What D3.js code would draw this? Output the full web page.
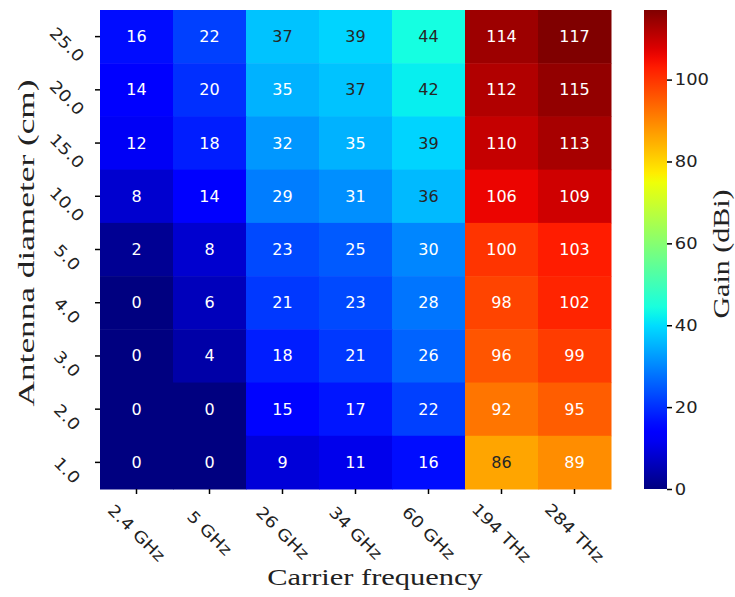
<!DOCTYPE html>
<html>
<head>
<meta charset="utf-8">
<script src="https://cdn.jsdelivr.net/npm/d3@7"></script>
<style>
  body { margin: 0; background: #fff; }
  svg text { fill: #222; }
</style>
</head>
<body>
<script>
// DATA
const freqs = ["2.4 GHz", "5 GHz", "26 GHz", "34 GHz", "60 GHz", "194 THz", "284 THz"];
const diameters = ["25.0", "20.0", "15.0", "10.0", "5.0", "4.0", "3.0", "2.0", "1.0"];
const gain25 = [16, 22, 37, 39, 44, 114, 117];
const gain20 = [14, 20, 35, 37, 42, 112, 115];
const gain15 = [12, 18, 32, 35, 39, 110, 113];
const gain10 = [8, 14, 29, 31, 36, 106, 109];
const gain5 = [2, 8, 23, 25, 30, 100, 103];
const gain4 = [0, 6, 21, 23, 28, 98, 102];
const gain3 = [0, 4, 18, 21, 26, 96, 99];
const gain2 = [0, 0, 15, 17, 22, 92, 95];
const gain1 = [0, 0, 9, 11, 16, 86, 89];
const cbarTicks = [0, 20, 40, 60, 80, 100];

const rows = [gain25, gain20, gain15, gain10, gain5, gain4, gain3, gain2, gain1];
const cells = [];
rows.forEach((r, i) => r.forEach((v, j) => cells.push({row: diameters[i], col: freqs[j], v: v})));

//SIZES
const width = 735, height = 597;
const hm = {left: 100, top: 10, right: 611, bottom: 489};
const cb = {left: 644, right: 667};

// matplotlib jet
const jr = d3.scaleLinear().domain([0, 0.35, 0.66, 0.89, 1]).range([0, 0, 1, 1, 0.5]).clamp(true);
const jg = d3.scaleLinear().domain([0, 0.125, 0.375, 0.64, 0.91, 1]).range([0, 0, 1, 1, 0, 0]).clamp(true);
const jb = d3.scaleLinear().domain([0, 0.11, 0.34, 0.65, 1]).range([0.5, 1, 1, 0, 0]).clamp(true);
const jet = t => [jr(t), jg(t), jb(t)];
const vmin = 0, vmax = d3.max(rows.flat());
const norm = d3.scaleLinear().domain([vmin, vmax]).clamp(true);
const color = v => { const c = jet(norm(v)); return d3.rgb(c[0]*255, c[1]*255, c[2]*255).formatHex(); };
const lum = v => {
  const c = jet(norm(v)).map(x => x <= 0.03928 ? x / 12.92 : Math.pow((x + 0.055) / 1.055, 2.4));
  return 0.2126*c[0] + 0.7152*c[1] + 0.0722*c[2];
};

const svg = d3.select("body").append("svg").attr("width", width).attr("height", height);

const x = d3.scaleBand().domain(freqs).range([hm.left, hm.right]);
const y = d3.scaleBand().domain(diameters).range([hm.top, hm.bottom]);

//CELLS
svg.append("g").selectAll("rect").data(cells).join("rect")
  .attr("x", d => x(d.col))
  .attr("y", d => y(d.row))
  .attr("width", x.bandwidth() + 0.5)
  .attr("height", y.bandwidth() + 0.5)
  .attr("fill", d => color(d.v));

//ANNOTATIONS
svg.append("g").selectAll("text").data(cells).join("text")
  .attr("x", d => x(d.col) + x.bandwidth()/2)
  .attr("y", d => y(d.row) + y.bandwidth()/2)
  .attr("text-anchor", "middle")
  .attr("dominant-baseline", "central")
  .style("font-family", "DejaVu Sans, sans-serif")
  .style("font-size", "16px")
  .style("fill", d => lum(d.v) > 0.408 ? "#262626" : "#ffffff")
  .text(d => d.v);

//X AXIS
const xg = svg.append("g").attr("transform", `translate(0,${hm.bottom})`)
  .call(d3.axisBottom(x).tickSize(5).tickPadding(3));
xg.select(".domain").remove();
xg.selectAll("line").attr("stroke", "#000").attr("stroke-width", 1.5);
xg.selectAll("text")
  .attr("y", 0).attr("dy", 0)
  .attr("text-anchor", "middle")
  .attr("dominant-baseline", "central")
  .attr("transform", "translate(0,44) rotate(45) scale(1.15,1)")
  .style("font-family", "DejaVu Sans, sans-serif")
  .style("font-size", "16px");

//Y AXIS
const yg = svg.append("g").attr("transform", `translate(${hm.left},0)`)
  .call(d3.axisLeft(y).tickSize(5));
yg.select(".domain").remove();
yg.selectAll("line").attr("stroke", "#000").attr("stroke-width", 1.5);
yg.selectAll("text")
  .attr("x", 0).attr("dy", 0)
  .attr("text-anchor", "middle")
  .attr("dominant-baseline", "central")
  .attr("transform", "translate(-33,8) rotate(45) scale(1.15,1)")
  .style("font-family", "DejaVu Sans, sans-serif")
  .style("font-size", "16px");

//COLORBAR
const cy = d3.scaleLinear().domain([vmin, vmax]).range([hm.bottom, hm.top]);
const defs = svg.append("defs");
const grad = defs.append("linearGradient").attr("id", "jetgrad")
  .attr("x1", 0).attr("y1", 1).attr("x2", 0).attr("y2", 0);
d3.range(0, 1.0001, 0.02).forEach(t => {
  const c = jet(t);
  grad.append("stop").attr("offset", t)
    .attr("stop-color", d3.rgb(c[0]*255, c[1]*255, c[2]*255).formatHex());
});
svg.append("rect")
  .attr("x", cb.left).attr("y", hm.top)
  .attr("width", cb.right - cb.left).attr("height", hm.bottom - hm.top)
  .attr("fill", "url(#jetgrad)");
const cg = svg.append("g").attr("transform", `translate(${cb.right},0)`)
  .call(d3.axisRight(cy).tickValues(cbarTicks).tickSize(5).tickPadding(3));
cg.select(".domain").remove();
cg.selectAll("line").attr("stroke", "#000").attr("stroke-width", 1.5);
cg.selectAll("text")
  .attr("transform", "scale(1.12,1)")
  .attr("x", 7)
  .style("font-family", "DejaVu Sans, sans-serif")
  .style("font-size", "16px");

//AXIS LABELS
svg.append("text")
  .attr("transform", "translate(375,585) scale(1.27,1)")
  .attr("text-anchor", "middle")
  .style("font-family", "Liberation Serif, serif")
  .style("font-size", "24px")
  .text("Carrier frequency");
svg.append("text")
  .attr("transform", "translate(34,243) rotate(-90) scale(1.47,1)")
  .attr("text-anchor", "middle")
  .style("font-family", "Liberation Serif, serif")
  .style("font-size", "24px")
  .text("Antenna diameter (cm)");
svg.append("text")
  .attr("transform", "translate(729,254) rotate(-90) scale(1.25,1)")
  .attr("text-anchor", "middle")
  .style("font-family", "Liberation Serif, serif")
  .style("font-size", "24px")
  .text("Gain (dBi)");
</script>
</body>
</html>
